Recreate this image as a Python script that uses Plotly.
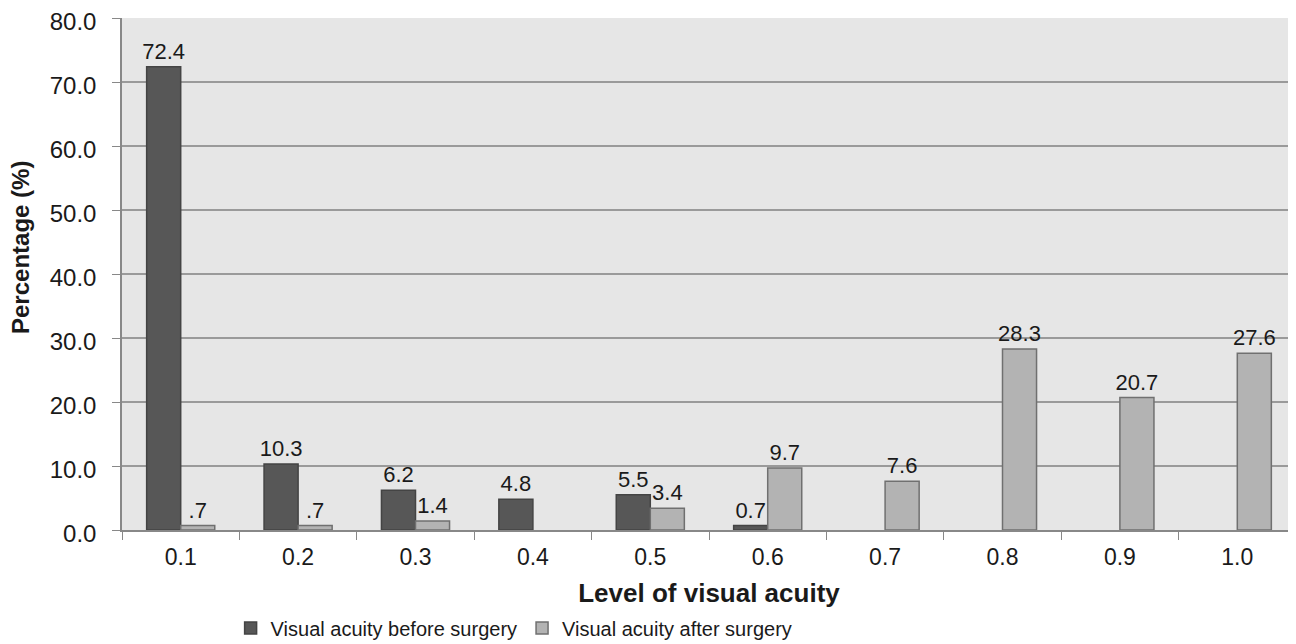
import plotly.graph_objects as go

categories = ["0.1", "0.2", "0.3", "0.4", "0.5", "0.6", "0.7", "0.8", "0.9", "1.0"]
before = [72.4, 10.3, 6.2, 4.8, 5.5, 0.7, None, None, None, None]
after = [0.7, 0.7, 1.4, None, 3.4, 9.7, 7.6, 28.3, 20.7, 27.6]
before_labels = ["72.4", "10.3", "6.2", "4.8", "5.5", "0.7", "", "", "", ""]
after_labels = [".7", ".7", "1.4", "", "3.4", "9.7", "7.6", "28.3", "20.7", "27.6"]
y_ticks = [0, 10, 20, 30, 40, 50, 60, 70, 80]

label_font = dict(family="Liberation Sans, Arial", size=22, color="#1a1a1a")

fig = go.Figure()
fig.add_trace(go.Bar(
    x=categories, y=before, name="Visual acuity before surgery",
    marker=dict(color="#575757", line=dict(color="#444444", width=1.5)),
    text=before_labels, textposition="outside", cliponaxis=False,
    constraintext="none", textfont=label_font,
))
fig.add_trace(go.Bar(
    x=categories, y=after, name="Visual acuity after surgery",
    marker=dict(color="#b3b3b3", line=dict(color="#707070", width=1.5)),
    text=after_labels, textposition="outside", cliponaxis=False,
    constraintext="none", textfont=label_font,
))

W, H = 1288, 636
fig.update_layout(
    width=W, height=H,
    margin=dict(l=114, r=0, t=10, b=114, autoexpand=False),
    paper_bgcolor="white", plot_bgcolor="#e6e6e6",
    barmode="group", bargap=0.42, bargroupgap=0,
    showlegend=True,
    legend=dict(orientation="h", x=0.334, xanchor="center", y=16 / H, yref="container",
                yanchor="middle",
                font=dict(family="Liberation Sans Narrow, Arial Narrow, Liberation Sans", size=20, color="#1a1a1a"),
                traceorder="normal"),
    uniformtext=dict(mode=False),
    annotations=[dict(
        text="<b>Percentage (%)</b>", textangle=-90, showarrow=False,
        xref="paper", yref="paper", x=(12 - 114) / 1174, y=(522 - 240) / 512,
        xanchor="center", yanchor="middle",
        font=dict(family="Liberation Sans Narrow, Arial Narrow, Liberation Sans", size=24, color="#1a1a1a"),
    )],
)
fig.update_xaxes(
    type="category", tickson="boundaries", ticks="outside", ticklen=8,
    tickcolor="#888888", showline=True, linecolor="#888888", linewidth=1.5,
    showgrid=False, automargin=False, ticklabelstandoff=6,
    tickfont=dict(family="Liberation Sans, Arial", size=23, color="#1a1a1a"),
    title=dict(text="<b>Level of visual acuity</b>", standoff=14,
               font=dict(family="Liberation Sans, Arial", size=26, color="#1a1a1a")),
)
fig.update_yaxes(
    range=[0, 80], tickvals=y_ticks, ticktext=[f"{v:.1f}" for v in y_ticks],
    ticks="outside", ticklen=8, tickcolor="#888888", automargin=False,
    showline=True, linecolor="#888888", linewidth=1.5,
    showgrid=True, gridcolor="#9a9a9a", gridwidth=1.5, zeroline=False,
    ticklabelstandoff=11, ticklabeloverflow="allow", ticklabelshift=4,
    tickfont=dict(family="Liberation Sans, Arial", size=24, color="#1a1a1a"),
)

fig.write_html("out.html")
